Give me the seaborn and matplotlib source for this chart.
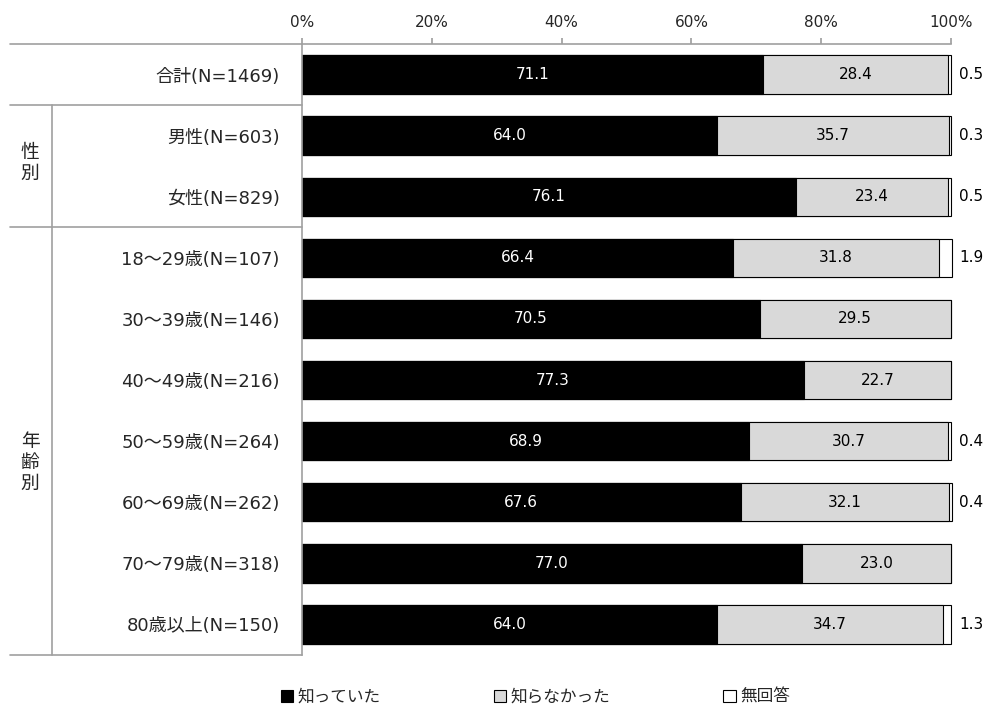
import numpy as np
import pandas as pd
import matplotlib
matplotlib.use("Agg")
import matplotlib.pyplot as plt
import seaborn as sns
from matplotlib.lines import Line2D
from matplotlib.patches import Patch
from matplotlib.transforms import blended_transform_factory

# data
categories = ["合計(N=1469)", "男性(N=603)", "女性(N=829)",
              "18～29歳(N=107)", "30～39歳(N=146)", "40～49歳(N=216)",
              "50～59歳(N=264)", "60～69歳(N=262)", "70～79歳(N=318)",
              "80歳以上(N=150)"]
knew = [71.1, 64.0, 76.1, 66.4, 70.5, 77.3, 68.9, 67.6, 77.0, 64.0]
not_knew = [28.4, 35.7, 23.4, 31.8, 29.5, 22.7, 30.7, 32.1, 23.0, 34.7]
no_answer = [0.5, 0.3, 0.5, 1.9, 0.0, 0.0, 0.4, 0.4, 0.0, 1.3]
series_names = ["知っていた", "知らなかった", "無回答"]
x_ticks = [0, 20, 40, 60, 80, 100]
groups = [("性\n別", 1, 2), ("年\n齢\n別", 3, 9)]

sns.set_theme(style="white")
plt.rcParams['font.family'] = ['DejaVu Sans', 'Noto Sans CJK JP']

df = pd.DataFrame({"cat": categories, "knew": knew,
                   "not_knew": not_knew, "no_answer": no_answer})
df["c2"] = df["knew"] + df["not_knew"]
df["c3"] = df["c2"] + df["no_answer"]

W, H = 993, 711
fig = plt.figure(figsize=(W / 100, H / 100), dpi=100)
ax = fig.add_axes([302 / W, 1 - 655 / H, (951 - 302) / W, (655 - 44) / H])

colors = ["black", "#d9d9d9", "white"]
bw = 0.63
# layered bars: total first, then cumulative overlays
for col, c in zip(["c3", "c2", "knew"], colors[::-1]):
    sns.barplot(data=df, x=col, y="cat", orient="h", color=c,
                edgecolor="black", linewidth=0.8, width=bw, ax=ax,
                saturation=1)
for p in ax.patches:
    p.set_clip_on(False)

ax.set_xlim(0, 100)
ax.set_ylim(9.5, -0.5)
ax.xaxis.tick_top()
ax.set_xticks(x_ticks)
ax.set_xticklabels([f"{t}%" for t in x_ticks], fontsize=11)
ax.tick_params(axis="x", direction="out", length=4, color="#a0a0a0",
               pad=6, top=True, bottom=False)
ax.tick_params(axis="y", length=0, pad=16, labelsize=13)
ax.set_xlabel("")
ax.set_ylabel("")
for s in ["right", "bottom"]:
    ax.spines[s].set_visible(False)
for s in ["top", "left"]:
    ax.spines[s].set_color("#a0a0a0")
    ax.spines[s].set_linewidth(1.2)

# value labels
for i in range(len(categories)):
    ax.text(knew[i] / 2, i, f"{knew[i]:.1f}", color="white",
            ha="center", va="center", fontsize=11)
    ax.text(knew[i] + not_knew[i] / 2, i, f"{not_knew[i]:.1f}",
            color="black", ha="center", va="center", fontsize=11)
    if no_answer[i] > 0:
        ax.text(101.3, i, f"{no_answer[i]:.1f}", color="black",
                ha="left", va="center", fontsize=11, clip_on=False)

# table lines on the left
tr = blended_transform_factory(fig.transFigure, ax.transData)
lc = "#a0a0a0"
for yb in [-0.5, 0.5, 2.5, 9.5]:
    fig.add_artist(Line2D([10 / W, 302 / W], [yb, yb], transform=tr,
                          color=lc, lw=1.2))
fig.add_artist(Line2D([52 / W, 52 / W], [0.5, 9.5], transform=tr,
                      color=lc, lw=1.2))
for label, a, b in groups:
    yc = (a + b) / 2 + (0.35 if b - a > 2 else -0.05)
    ax.text(30 / W, yc, label, transform=tr, ha="center", va="center",
            fontsize=13.5, linespacing=1.15)

handles = [Patch(facecolor=c, edgecolor="black", linewidth=0.8) for c in colors]
fig.legend(handles, series_names, loc="center", bbox_to_anchor=(0.539, 0.02),
           ncol=3, frameon=False, fontsize=12, handlelength=0.75,
           handleheight=0.75, handletextpad=0.25, columnspacing=6.8)

fig.savefig("out.png", dpi=100)
